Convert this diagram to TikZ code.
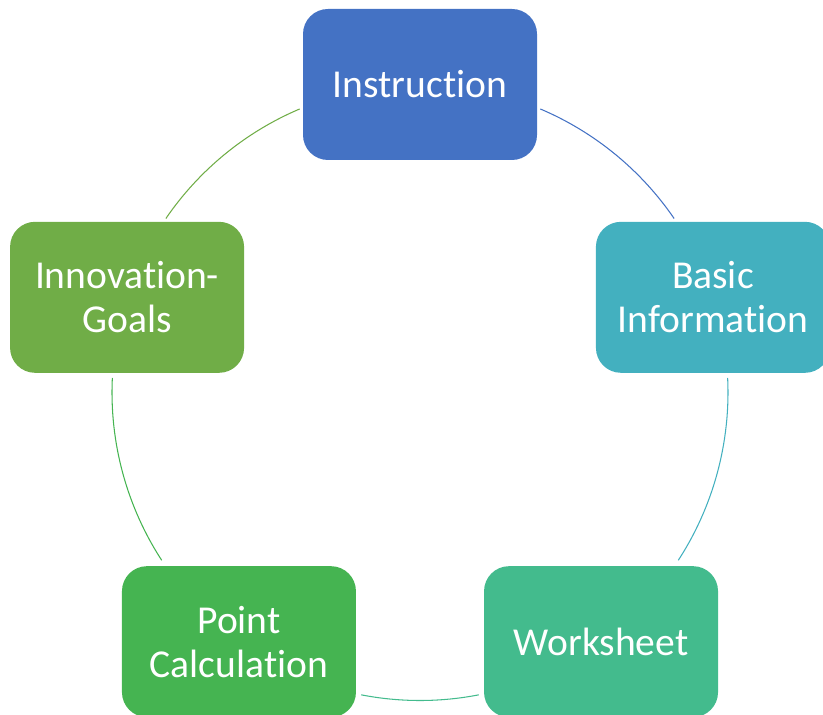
\documentclass[tikz,border=0pt]{standalone}
\usepackage{fontspec}
\setmainfont{Carlito}[Ligatures=NoCommon]
\usetikzlibrary{positioning,calc}

\definecolor{accA}{HTML}{4472C4}
\definecolor{accB}{HTML}{43B0BF}
\definecolor{accC}{HTML}{43BB8D}
\definecolor{accD}{HTML}{45B451}
\definecolor{accE}{HTML}{70AD47}

\begin{document}
\begin{tikzpicture}[every cyclebox/.style={rectangle, rounded corners=0.5cm},
    cyclebox/.style={every cyclebox, minimum width=4.68cm, minimum height=3.02cm,
        inner sep=0pt, align=center, text=white,
        font=\fontsize{22.5}{25}\selectfont},
    ring/.style={line width=0.6pt}]
    \def\R{6.16}
    \useasboundingbox (-8.4,-6.45) rectangle (8.06,7.85);

    \node [cyclebox, fill=accA] (Instr) at (90:\R) {Instruction};
    \node [cyclebox, fill=accB] (BasicInfo) at (18:\R) {Basic\\Information};
    \node [cyclebox, fill=accC] (Worksh) at (-54:\R) {Worksheet};
    \node [cyclebox, fill=accD] (PointCalc) at (-126:\R) {Point\\Calculation};
    \node [cyclebox, fill=accE] (InnoGoals) at (162:\R) {Innovation-\\Goals};

    \coordinate (Instr-out) at (67:\R);
    \coordinate (BasicInfo-out) at (2.7:\R);
    \coordinate (Worksh-out) at (-79:\R);
    \coordinate (PointCalc-out) at (-147:\R);
    \coordinate (InnoGoals-out) at (145.6:\R);

    \draw[ring, accA] (Instr-out) arc[start angle=67, end angle=34.4, radius=\R];
    \draw[ring, accB] (BasicInfo-out) arc[start angle=2.7, end angle=-33, radius=\R];
    \draw[ring, accC] (Worksh-out) arc[start angle=-79, end angle=-101, radius=\R];
    \draw[ring, accD] (PointCalc-out) arc[start angle=-147, end angle=-182.7, radius=\R];
    \draw[ring, accE] (InnoGoals-out) arc[start angle=145.6, end angle=113, radius=\R];

\end{tikzpicture}
\end{document}
